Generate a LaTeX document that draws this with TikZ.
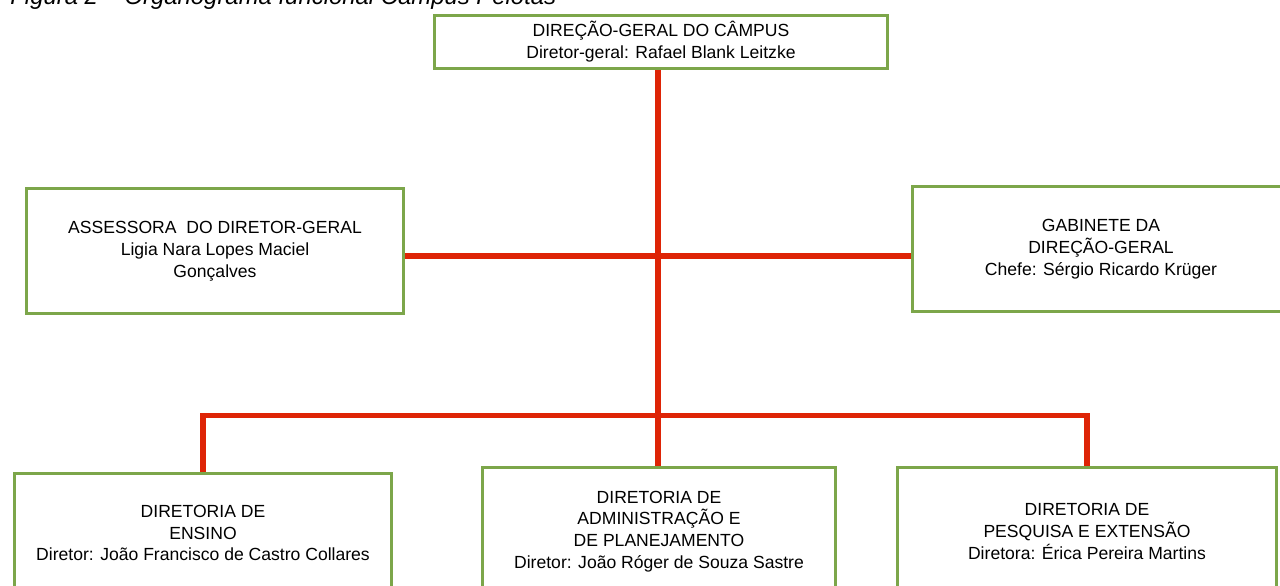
\documentclass[tikz,border=0pt]{standalone}
\usepackage{fontspec}
\setmainfont{Liberation Sans}
\usepackage{tikz}
\definecolor{boxgreen}{RGB}{124,166,74}
\definecolor{linkred}{RGB}{222,36,6}
\tikzset{x=0.02cm, y=-0.02cm,
    unit box/.style={draw=boxgreen, line width=1.7pt, fill=white,
        align=center, inner sep=0pt,
        font=\fontsize{10}{12.4}\selectfont},
    link/.style={draw=linkred, line width=2.9pt},
    }
\begin{document}
\begin{tikzpicture}
	\useasboundingbox (0,0) rectangle (1280,585);
	\clip (0,0) rectangle (1280,585);
	% caption, cut off at the top
	\node[anchor=base west, inner sep=0pt, font=\fontsize{13.6}{16}\selectfont\itshape]
		(caption) at (10,4) {Figura 2 -- Organograma funcional Câmpus Pelotas};
	% boxes
	\node[unit box, minimum width=9.08cm, minimum height=1.06cm] (dirgeral) at (661,42)
		{DIREÇÃO-GERAL DO CÂMPUS\\Diretor-geral: Rafael Blank Leitzke};
	\node[unit box, minimum width=7.54cm, minimum height=2.5cm] (assessora) at (215,251)
		{ASSESSORA\ \ DO DIRETOR-GERAL\\Ligia Nara Lopes Maciel\\Gonçalves};
	\node[unit box, minimum width=7.54cm, minimum height=2.5cm] (gabinete) at (1101,249)
		{GABINETE DA\\DIREÇÃO-GERAL\\Chefe: Sérgio Ricardo Krüger};
	\node[unit box, minimum width=7.54cm, minimum height=2.4cm] (ensino) at (203,533)
		{DIRETORIA DE\\ENSINO\\Diretor: João Francisco de Castro Collares};
	\node[unit box, minimum width=7.05cm, minimum height=2.56cm] (admin) at (659,531.5)
		{DIRETORIA DE\\ADMINISTRAÇÃO E\\DE PLANEJAMENTO\\Diretor: João Róger de Souza Sastre};
	\node[unit box, minimum width=7.59cm, minimum height=2.56cm] (pesquisa) at (1087,531.5)
		{DIRETORIA DE\\PESQUISA E EXTENSÃO\\Diretora: Érica Pereira Martins};
	% connectors
	\coordinate (trunk) at (658,256);
	\coordinate (bar) at (658,415.5);
	\draw[link] (dirgeral.south -| trunk) -- (admin.north -| trunk);
	\draw[link] (assessora.east |- trunk) -- (gabinete.west |- trunk);
	\draw[link] (ensino.north) |- (bar) -| (pesquisa.north);
\end{tikzpicture}
\end{document}
